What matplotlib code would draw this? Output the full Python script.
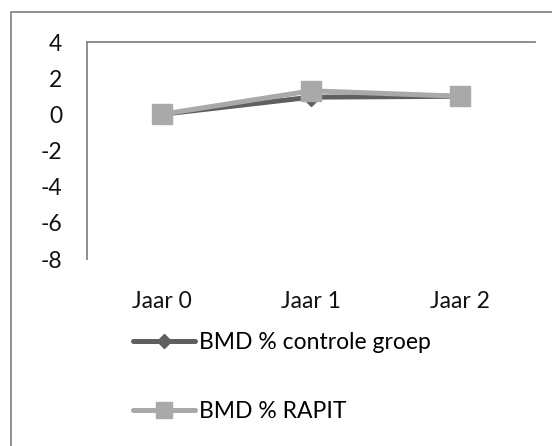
import matplotlib
matplotlib.use("Agg")
import matplotlib.pyplot as plt
from matplotlib.patches import Rectangle

categories = ["Jaar 0", "Jaar 1", "Jaar 2"]
controle = [0.0, 0.95, 1.0]
rapit = [0.0, 1.3, 1.0]
yticks = [-8, -6, -4, -2, 0, 2, 4]

plt.rcParams['font.family'] = ['Lato', 'DejaVu Sans']

fig = plt.figure(figsize=(5.52, 4.46), dpi=100)
ax = fig.add_axes([87 / 552, 1 - 259 / 446, 448 / 552, 217 / 446])

x = range(len(categories))
ax.plot(x, controle, color='#5f5f5f', linewidth=3.6, marker='D', markersize=9,
        markerfacecolor='#5f5f5f', markeredgecolor='#5f5f5f', label='BMD % controle groep',
        solid_capstyle='round')
ax.plot(x, rapit, color='#a9a9a9', linewidth=3.6, marker='s', markersize=14,
        markerfacecolor='#a9a9a9', markeredgecolor='#a9a9a9', label='BMD % RAPIT',
        solid_capstyle='round')

ax.set_xlim(-0.5, len(categories) - 0.5)
ax.set_ylim(-8, 4)
ax.set_xticks(list(x))
ax.set_xticklabels(categories)
ax.set_yticks(yticks)
ax.set_yticklabels([str(v) for v in yticks])
ax.tick_params(axis='both', length=0, labelsize=16.5, labelcolor='#111111')
ax.tick_params(axis='y', pad=18)
ax.tick_params(axis='x', pad=23)

for side in ['right', 'bottom']:
    ax.spines[side].set_visible(False)
for side in ['left', 'top']:
    ax.spines[side].set_color('#868686')
    ax.spines[side].set_linewidth(1.3)

fig.legend(loc='upper left', bbox_to_anchor=(133 / 552, 1 - 332 / 446), frameon=False,
           fontsize=16.5, handlelength=2.7, handletextpad=0.2, labelspacing=2.1,
           borderpad=0, borderaxespad=0, markerscale=0.8)

# outer chart border (only left and top visible in the crop)
fig.patches.append(Rectangle((11 / 552, -0.1), 1.2, 1.1 - 12 / 446, transform=fig.transFigure,
                             fill=False, edgecolor='#898989', linewidth=1.3))

fig.savefig('out.png', dpi=100)
